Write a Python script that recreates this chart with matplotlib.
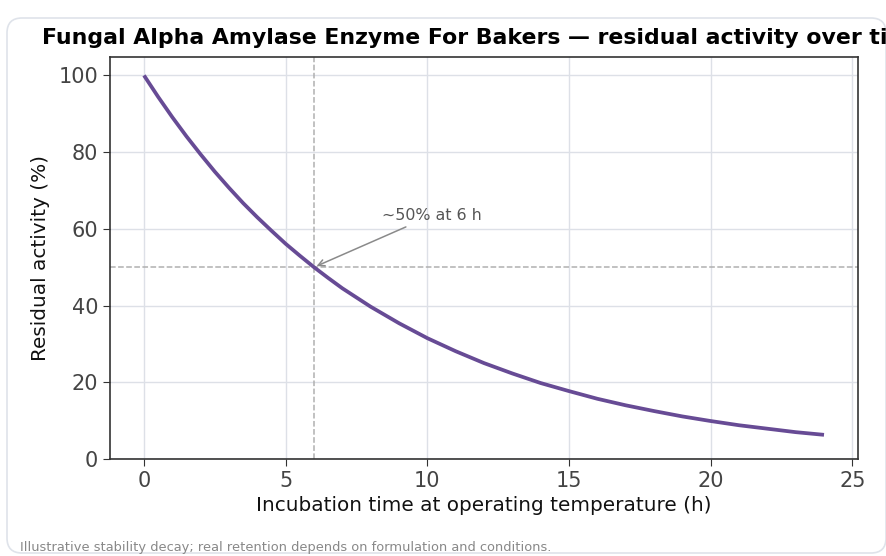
import matplotlib.pyplot as plt
from matplotlib.patches import FancyBboxPatch

# Residual activity (half-hour steps early on, hourly later)
hours = [0, 0.5, 1, 1.5, 2, 2.5, 3, 3.5, 4, 4.5, 5, 5.5, 6, 6.5, 7, 7.5, 8, 9, 10, 11, 12,
         13, 14, 15, 16, 17, 18, 19, 20, 21, 22, 23, 24]
activity = [100, 94.4, 89.1, 84.1, 79.4, 74.9, 70.7, 66.7, 63, 59.5, 56.1, 53, 50,
            47.2, 44.5, 42.1, 39.7, 35.4, 31.5, 28.1, 25,
            22.3, 19.8, 17.7, 15.7, 14, 12.5, 11.1, 9.9, 8.8, 7.9, 7, 6.3]
half_time = 6
half_level = 50

fig = plt.figure(figsize=(8.87, 5.56), dpi=100)

# rounded card outline behind the chart (inches)
card = FancyBboxPatch((0.07, 0.03), 8.79, 5.35,
                      boxstyle="round,pad=0,rounding_size=0.15",
                      transform=fig.dpi_scale_trans, facecolor="none",
                      edgecolor="#dfe3ea", linewidth=1.2, clip_on=False, zorder=-1)
fig.patches.append(card)

ax = fig.add_axes([110 / 887, 1 - 459 / 556, 748 / 887, 402 / 556])

ax.plot(hours, activity, color="#674b95", linewidth=2.7, zorder=3,
        solid_joinstyle="round", solid_capstyle="butt")
ax.axvline(half_time, color="#b0b0b0", linestyle="--", linewidth=1.1, zorder=2)
ax.axhline(half_level, color="#b0b0b0", linestyle="--", linewidth=1.1, zorder=2)

ax.annotate("~50% at 6 h", xy=(half_time, half_level), xytext=(8.4, 62.3),
            fontsize=11.4, color="#555555",
            arrowprops=dict(arrowstyle="->", color="#8a8a8a", linewidth=1.1))

ax.set_xlim(-1.2, 25.2)
ax.set_ylim(0, 104.8)
ax.set_xticks([0, 5, 10, 15, 20, 25])
ax.set_yticks([0, 20, 40, 60, 80, 100])
ax.grid(True, color="#dde0e7", linewidth=1)
ax.set_axisbelow(True)

for s in ax.spines.values():
    s.set_color("#333333")
    s.set_linewidth(1.2)
ax.tick_params(labelsize=15, colors="#333333", length=5)
for lbl in ax.get_xticklabels() + ax.get_yticklabels():
    lbl.set_color("#444444")

ax.set_xlabel("Incubation time at operating temperature (h)", fontsize=14.4, color="#111111")
ax.set_ylabel("Residual activity (%)", fontsize=14.4, color="#111111", labelpad=6)
ax.set_title("Fungal Alpha Amylase Enzyme For Bakers \u2014 residual activity over time",
             fontsize=15.8, fontweight="bold", pad=9)

fig.text(20 / 887, 1 - 547 / 556, "Illustrative stability decay; real retention depends on formulation and conditions.",
         fontsize=9.4, color="#888888", va="center")

fig.savefig("out.png", dpi=100)
